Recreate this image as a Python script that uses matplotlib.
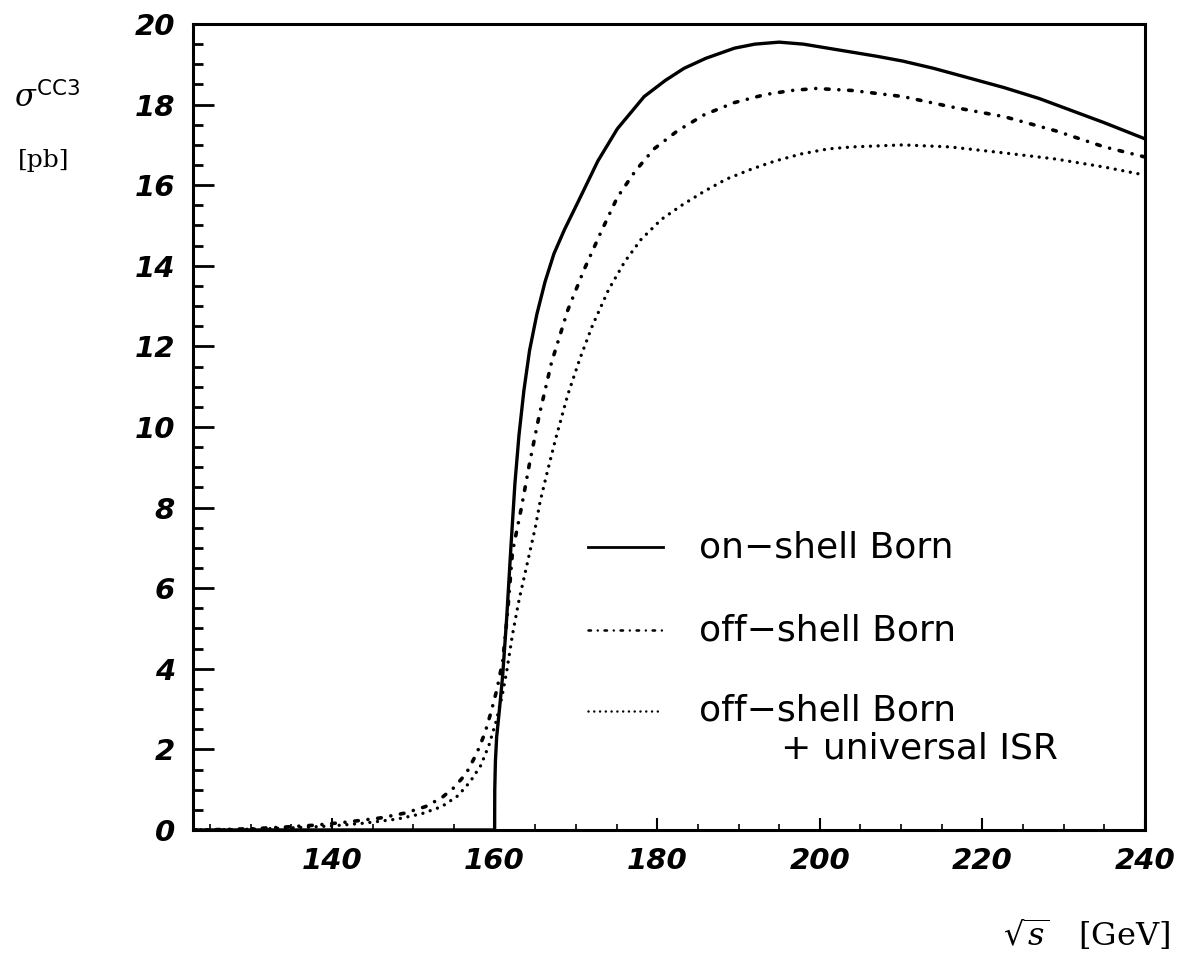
import matplotlib
matplotlib.use("Agg")
import matplotlib.pyplot as plt
from matplotlib.ticker import MultipleLocator

# ---- data ----
E_on = [122.9, 160.0, 160.02, 160.1, 160.25, 160.6, 161.0, 161.5, 162.0, 162.5, 163.0, 163.6,
        164.3, 165.2, 166.2, 167.3, 168.6, 170.3, 172.7, 175.1, 178.4, 181.0, 183.3, 186.0,
        189.5, 192.0, 195.0, 198.0, 201.0, 204.0, 207.0, 210.2, 214.0, 218.0, 222.7, 227.0,
        231.0, 235.0, 240.0]
v_on = [0.0, 0.0, 1.0, 1.7, 2.3, 3.0, 3.85, 5.3, 7.0, 8.6, 9.8, 10.9,
        11.9, 12.8, 13.6, 14.3, 14.9, 15.6, 16.6, 17.4, 18.2, 18.6, 18.9, 19.15,
        19.4, 19.5, 19.55, 19.5, 19.4, 19.3, 19.2, 19.08, 18.9, 18.68, 18.42, 18.15,
        17.85, 17.55, 17.15]

E_off = [122.9, 126, 130, 134, 138, 142, 146, 149, 151.5, 153.5, 155, 156.5, 157.8, 158.8,
         159.6, 160.3, 161.0, 161.6, 162.2, 163.3, 164.3, 165.5, 167, 169, 171, 173, 175.1,
         177.3, 179.6, 182.5, 185.8, 189.5, 193.3, 196.5, 199.5, 204, 210.2, 216, 222.7,
         229, 235, 240]
v_off = [0.0, 0.01, 0.03, 0.07, 0.12, 0.2, 0.3, 0.42, 0.58, 0.8, 1.05, 1.4, 1.9, 2.4,
         2.95, 3.5, 4.2, 5.4, 6.9, 8.0, 9.1, 10.3, 11.6, 12.9, 13.9, 14.8, 15.7,
         16.35, 16.9, 17.35, 17.75, 18.05, 18.25, 18.35, 18.4, 18.35, 18.2, 17.95, 17.7,
         17.35, 16.95, 16.7]

E_isr = [122.9, 128, 132, 136, 140, 144, 148, 151, 153.5, 155.5, 157, 158.3, 159.3, 160.2,
         160.9, 161.5, 162.2, 163, 164, 165, 165.6, 166.5, 167.5, 169, 170.5, 172, 174, 176,
         178, 180.5, 183, 185.8, 188.5, 191.6, 194.5, 197.8, 201, 204, 210.2, 216, 222.7,
         229, 235, 240]
v_isr = [0.0, 0.01, 0.03, 0.06, 0.1, 0.17, 0.27, 0.4, 0.58, 0.85, 1.2, 1.6, 2.1, 2.7,
         3.3, 3.95, 4.85, 5.7, 6.6, 7.5, 8.15, 8.9, 9.7, 10.8, 11.7, 12.5, 13.4, 14.1,
         14.65, 15.15, 15.5, 15.85, 16.15, 16.4, 16.6, 16.78, 16.9, 16.95, 17.0, 16.95, 16.8,
         16.65, 16.45, 16.25]

x_ticks = [140, 160, 180, 200, 220, 240]
y_ticks = [0, 2, 4, 6, 8, 10, 12, 14, 16, 18, 20]
legend_labels = ["on\u2212shell Born", "off\u2212shell Born", "off\u2212shell Born", "+ universal ISR"]

# ---- styles ----
ls_off = (0, (1.0, 2.7, 0.01, 2.7))
ls_isr = (0, (0.01, 2.3))

fig = plt.figure(figsize=(11.89, 9.68), dpi=100)
ax = fig.add_axes([0.1623, 0.1426, 0.8007, 0.8326])

ax.plot(E_on, v_on, color="black", lw=2.4, solid_capstyle="round",
        solid_joinstyle="round", zorder=3)
ax.plot(E_off, v_off, color="black", lw=2.6, linestyle=ls_off, dash_capstyle="round", zorder=3)
ax.plot(E_isr, v_isr, color="black", lw=2.4, linestyle=ls_isr, dash_capstyle="round", zorder=3)

ax.set_xlim(122.9, 240)
ax.set_ylim(0, 20)

ax.set_xticks(x_ticks)
ax.set_yticks(y_ticks)
ax.xaxis.set_minor_locator(MultipleLocator(5))
ax.yaxis.set_minor_locator(MultipleLocator(0.5))

tick_font = dict(family="DejaVu Sans", weight="bold", style="oblique", size=21)
ax.set_xticklabels([str(t) for t in x_ticks], fontdict=tick_font)
ax.set_yticklabels([str(t) for t in y_ticks], fontdict=tick_font)

ax.tick_params(axis="y", which="major", direction="in", length=15, width=2, pad=13)
ax.tick_params(axis="y", which="minor", direction="in", length=7, width=2)
ax.tick_params(axis="x", which="major", direction="in", length=9, width=1.5, pad=12)
ax.tick_params(axis="x", which="minor", direction="in", length=4, width=1.2)
ax.tick_params(top=False, right=False, which="both")

for sp in ax.spines.values():
    sp.set_linewidth(2.2)

# ---- legend (drawn manually) ----
leg_font = dict(family="DejaVu Sans", size=26)
rows_y = [0.351, 0.248, 0.148]
for yy, ls, lw in zip(rows_y, ["-", ls_off, ls_isr], [2.0, 1.8, 1.8]):
    ax.plot([0.415, 0.494], [yy, yy], transform=ax.transAxes, color="black",
            lw=lw, linestyle=ls, dash_capstyle="round")
ax.text(0.532, rows_y[0], legend_labels[0], transform=ax.transAxes, va="center", ha="left", **leg_font)
ax.text(0.532, rows_y[1], legend_labels[1], transform=ax.transAxes, va="center", ha="left", **leg_font)
ax.text(0.532, rows_y[2], legend_labels[2], transform=ax.transAxes, va="center", ha="left", **leg_font)
ax.text(0.618, 0.101, legend_labels[3], transform=ax.transAxes, va="center", ha="left", **leg_font)

# ---- axis titles ----
plt.rcParams["mathtext.fontset"] = "dejavuserif"
fig.text(0.012, 0.899, r"$\sigma^{\mathsf{CC3}}$", fontsize=22, family="DejaVu Serif",
         ha="left", va="center")
fig.text(0.015, 0.834, "[pb]", fontsize=18, family="DejaVu Serif", ha="left", va="center")
fig.text(0.984, 0.034, r"$\sqrt{s}$   [GeV]", fontsize=23, family="DejaVu Serif",
         ha="right", va="center")

fig.savefig("out.png", dpi=100, facecolor="white")
